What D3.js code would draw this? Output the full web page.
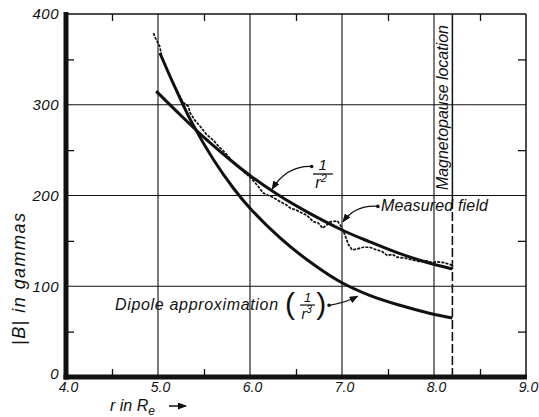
<!DOCTYPE html>
<html>
<head>
<meta charset="utf-8">
<script src="https://cdn.jsdelivr.net/npm/d3@7"></script>
<style>
body { margin: 0; background: #fff; }
text { font-family: "Liberation Sans", Arial, sans-serif; font-style: italic; fill: #111; }
</style>
</head>
<body>
<script>
'use strict';

// axis ticks
let xTicks = [4, 5, 6, 7, 8, 9];
let yTicks = [0, 100, 200, 300, 400];
let xMinor = [4.5, 5.5, 6.5, 7.5, 8.5];
let yMinor = [50, 150, 250, 350];
let magnetopauseR = 8.2;

// 1/r^2 curve
let invSqR = [4.98, 5.2, 5.5, 5.8, 6.0, 6.3, 6.6, 7.0, 7.3, 7.6, 7.9, 8.2];
let invSqB = [315, 293, 264, 238, 222, 201, 183, 162, 149, 137, 127, 119];

// dipole (1/r^3) curve
let dipoleR = [5.02, 5.19, 5.37, 5.6, 5.82, 6.0, 6.33, 6.65, 6.98, 7.3, 7.63, 7.96, 8.2];
let dipoleB = [357, 318, 280, 240, 208, 186, 153, 127, 105, 90, 79, 70, 65];

// measured field trace
let measR = [4.95, 4.97, 5.02, 5.04, 5.1, 5.16, 5.22, 5.27, 5.33, 5.35, 5.4, 5.46, 5.53,
             5.6, 5.67, 5.74, 5.82, 5.9, 5.97, 6.03, 6.09, 6.14, 6.2, 6.25, 6.33, 6.39,
             6.44, 6.5, 6.54, 6.62, 6.69, 6.74, 6.79, 6.84, 6.87, 6.95, 6.99, 7.03, 7.07,
             7.11, 7.16, 7.23, 7.3, 7.38, 7.44, 7.49, 7.55, 7.6, 7.69, 7.77, 7.85, 7.92,
             7.98, 8.03, 8.11, 8.2];
let measB = [379, 374, 364, 353, 338, 324, 313, 303, 298, 291, 283, 276, 267,
             261, 253, 246, 236, 229, 223, 217, 210, 203, 200, 198, 193, 190,
             186, 184, 182, 178, 171, 170, 164, 168, 171, 172, 166, 157, 146,
             140, 141, 143, 143, 140, 138, 134, 135, 132, 131, 129, 127, 128,
             126, 127, 126, 123];

let svgW = 539, svgH = 417;
let svg = d3.select('body').append('svg')
    .attr('width', svgW)
    .attr('height', svgH);

let xScale = d3.scaleLinear().domain([4, 9]).range([66, 526]);
let yScale = d3.scaleLinear().domain([0, 400]).range([377, 14]);

let ink = '#111';

// arrow markers
let defs = svg.append('defs');
defs.append('marker')
    .attr('id', 'arrow')
    .attr('markerUnits', 'userSpaceOnUse')
    .attr('markerWidth', 9).attr('markerHeight', 7)
    .attr('refX', 8).attr('refY', 3.5)
    .attr('orient', 'auto')
    .append('path').attr('d', 'M0,0 L9,3.5 L0,7 Z').attr('fill', ink);
defs.append('marker')
    .attr('id', 'dot')
    .attr('markerUnits', 'userSpaceOnUse')
    .attr('markerWidth', 5).attr('markerHeight', 5)
    .attr('refX', 2.5).attr('refY', 2.5)
    .append('circle').attr('cx', 2.5).attr('cy', 2.5).attr('r', 1.8).attr('fill', ink);

drawGrid();
drawAxes();
drawCurves();
drawAnnotations();
drawLabels();

function drawGrid() {
    svg.append('g').selectAll('line')
        .data(xTicks.slice(1, -1))
        .enter().append('line')
        .attr('x1', d => xScale(d)).attr('x2', d => xScale(d))
        .attr('y1', yScale(400)).attr('y2', yScale(0))
        .attr('stroke', ink).attr('stroke-width', 1.1);

    svg.append('g').selectAll('line')
        .data(yTicks.slice(1, -1))
        .enter().append('line')
        .attr('x1', xScale(4)).attr('x2', xScale(9))
        .attr('y1', d => yScale(d)).attr('y2', d => yScale(d))
        .attr('stroke', ink).attr('stroke-width', 1.1);
}

function drawAxes() {
    // minor ticks on all four sides
    let minor = [
        [d3.axisBottom(xScale).tickValues(xMinor).tickSize(-8), 'translate(0,' + yScale(0) + ')'],
        [d3.axisTop(xScale).tickValues(xMinor).tickSize(-7), 'translate(0,' + yScale(400) + ')'],
        [d3.axisLeft(yScale).tickValues(yMinor).tickSize(-8), 'translate(' + xScale(4) + ',0)'],
        [d3.axisRight(yScale).tickValues(yMinor).tickSize(-8), 'translate(' + xScale(9) + ',0)']
    ];
    minor.forEach(m => {
        let g = svg.append('g').attr('transform', m[1]).call(m[0].tickFormat(''));
        g.select('.domain').remove();
        g.selectAll('line').attr('stroke', ink).attr('stroke-width', 1.3);
    });

    // frame: thin top/right, heavy left/bottom
    svg.append('line')
        .attr('x1', xScale(4)).attr('x2', xScale(9))
        .attr('y1', yScale(400)).attr('y2', yScale(400))
        .attr('stroke', ink).attr('stroke-width', 1.5);
    svg.append('line')
        .attr('x1', xScale(9)).attr('x2', xScale(9))
        .attr('y1', yScale(400)).attr('y2', yScale(0))
        .attr('stroke', ink).attr('stroke-width', 1.5);
    svg.append('line')
        .attr('x1', xScale(4)).attr('x2', xScale(4))
        .attr('y1', yScale(400) - 2).attr('y2', yScale(0) + 2.5)
        .attr('stroke', ink).attr('stroke-width', 5);
    svg.append('line')
        .attr('x1', xScale(4) - 2.5).attr('x2', xScale(9) + 1)
        .attr('y1', yScale(0)).attr('y2', yScale(0))
        .attr('stroke', ink).attr('stroke-width', 5);

    // tick labels
    let xAxis = svg.append('g')
        .attr('transform', 'translate(0,' + yScale(0) + ')')
        .call(d3.axisBottom(xScale).tickValues(xTicks).tickSize(0).tickPadding(5).tickFormat(d3.format('.1f')));
    xAxis.select('.domain').remove();
    xAxis.selectAll('text').style('font-size', '14px').attr('font-family', null).attr('dx', 2);

    let yAxis = svg.append('g')
        .attr('transform', 'translate(' + xScale(4) + ',0)')
        .call(d3.axisLeft(yScale).tickValues(yTicks).tickSize(0).tickPadding(7));
    yAxis.select('.domain').remove();
    yAxis.selectAll('text').style('font-size', '15px').style('letter-spacing', '0.5px').attr('font-family', null);
    yAxis.selectAll('text').filter(d => d === 0).attr('dy', '0.1em');

    // magnetopause location
    svg.append('line')
        .attr('x1', xScale(magnetopauseR)).attr('x2', xScale(magnetopauseR))
        .attr('y1', yScale(400)).attr('y2', yScale(195))
        .attr('stroke', ink).attr('stroke-width', 1.5);
    svg.append('line')
        .attr('x1', xScale(magnetopauseR)).attr('x2', xScale(magnetopauseR))
        .attr('y1', yScale(195)).attr('y2', yScale(0))
        .attr('stroke', ink).attr('stroke-width', 1.6)
        .attr('stroke-dasharray', '9,3');
}

function drawCurves() {
    let smooth = d3.line()
        .x(d => xScale(d[0]))
        .y(d => yScale(d[1]))
        .curve(d3.curveCatmullRom);

    svg.append('path')
        .datum(d3.zip(invSqR, invSqB))
        .attr('d', smooth)
        .attr('fill', 'none').attr('stroke', ink).attr('stroke-width', 3);

    svg.append('path')
        .datum(d3.zip(dipoleR, dipoleB))
        .attr('d', smooth)
        .attr('fill', 'none').attr('stroke', ink).attr('stroke-width', 3);

    let rough = d3.line()
        .x(d => xScale(d[0]))
        .y(d => yScale(d[1]));

    svg.append('path')
        .datum(d3.zip(measR, measB))
        .attr('d', rough)
        .attr('fill', 'none').attr('stroke', ink).attr('stroke-width', 1.7)
        .attr('stroke-dasharray', '3,1.2');
}

function leader(p0, c, p1) {
    let path = d3.path();
    path.moveTo(xScale(p0[0]), yScale(p0[1]));
    path.quadraticCurveTo(xScale(c[0]), yScale(c[1]), xScale(p1[0]), yScale(p1[1]));
    svg.append('path')
        .attr('d', path.toString())
        .attr('fill', 'none').attr('stroke', ink).attr('stroke-width', 1.3)
        .attr('marker-start', 'url(#dot)')
        .attr('marker-end', 'url(#arrow)');
}

function drawAnnotations() {
    // 1/r^2
    svg.append('text')
        .attr('x', xScale(6.79)).attr('y', yScale(228))
        .attr('text-anchor', 'middle')
        .style('font-size', '15px').text('1');
    svg.append('line')
        .attr('x1', xScale(6.685)).attr('x2', xScale(6.9))
        .attr('y1', yScale(223.7)).attr('y2', yScale(223.7))
        .attr('stroke', ink).attr('stroke-width', 1.3);
    let rsq = svg.append('text')
        .attr('x', xScale(6.71)).attr('y', yScale(208))
        .style('font-size', '16px');
    rsq.append('tspan').text('r');
    rsq.append('tspan').attr('dy', -6).style('font-size', '11px').text('2');
    leader([6.67, 232], [6.4, 233], [6.24, 207]);

    // measured field
    svg.append('text')
        .attr('x', xScale(7.424)).attr('y', yScale(183))
        .style('font-size', '16px')
        .attr('textLength', 107)
        .text('Measured field');
    leader([7.39, 188], [7.15, 190], [7.01, 171]);

    // dipole approximation (1/r^3)
    svg.append('text')
        .attr('x', xScale(4.533)).attr('y', yScale(73.8))
        .style('font-size', '16px')
        .attr('textLength', 163)
        .text('Dipole  approximation');
    svg.append('text')
        .attr('x', xScale(6.38)).attr('y', yScale(69.4))
        .style('font-size', '30px').style('font-style', 'normal')
        .text('(');
    svg.append('text')
        .attr('x', xScale(6.72)).attr('y', yScale(69.4))
        .style('font-size', '30px').style('font-style', 'normal')
        .text(')');
    svg.append('text')
        .attr('x', xScale(6.625)).attr('y', yScale(82.6))
        .attr('text-anchor', 'middle')
        .style('font-size', '13px').text('1');
    svg.append('line')
        .attr('x1', xScale(6.543)).attr('x2', xScale(6.707))
        .attr('y1', yScale(79.3)).attr('y2', yScale(79.3))
        .attr('stroke', ink).attr('stroke-width', 1.2);
    let rcu = svg.append('text')
        .attr('x', xScale(6.56)).attr('y', yScale(64))
        .style('font-size', '14px');
    rcu.append('tspan').text('r');
    rcu.append('tspan').attr('dy', -6).style('font-size', '10px').text('3');
    leader([6.86, 79], [7.03, 81.5], [7.17, 89]);

    // magnetopause label
    svg.append('text')
        .attr('transform', 'translate(' + xScale(8.15) + ',' + yScale(206) + ')rotate(-90)')
        .style('font-size', '16px')
        .attr('textLength', 165)
        .text('Magnetopause location');
}

function drawLabels() {
    svg.append('text')
        .attr('transform', 'translate(25, 345)rotate(-90)')
        .style('font-size', '18px')
        .attr('textLength', 132)
        .text('|B| in gammas');

    let xl = svg.append('text')
        .attr('x', 110).attr('y', 411)
        .style('font-size', '16px');
    xl.append('tspan').text('r in R');
    xl.append('tspan').attr('dy', 4).style('font-size', '12px').text('e');

    svg.append('line')
        .attr('x1', 169).attr('x2', 186)
        .attr('y1', 406).attr('y2', 406)
        .attr('stroke', ink).attr('stroke-width', 1.5)
        .attr('marker-end', 'url(#arrow)');
}
</script>
</body>
</html>
